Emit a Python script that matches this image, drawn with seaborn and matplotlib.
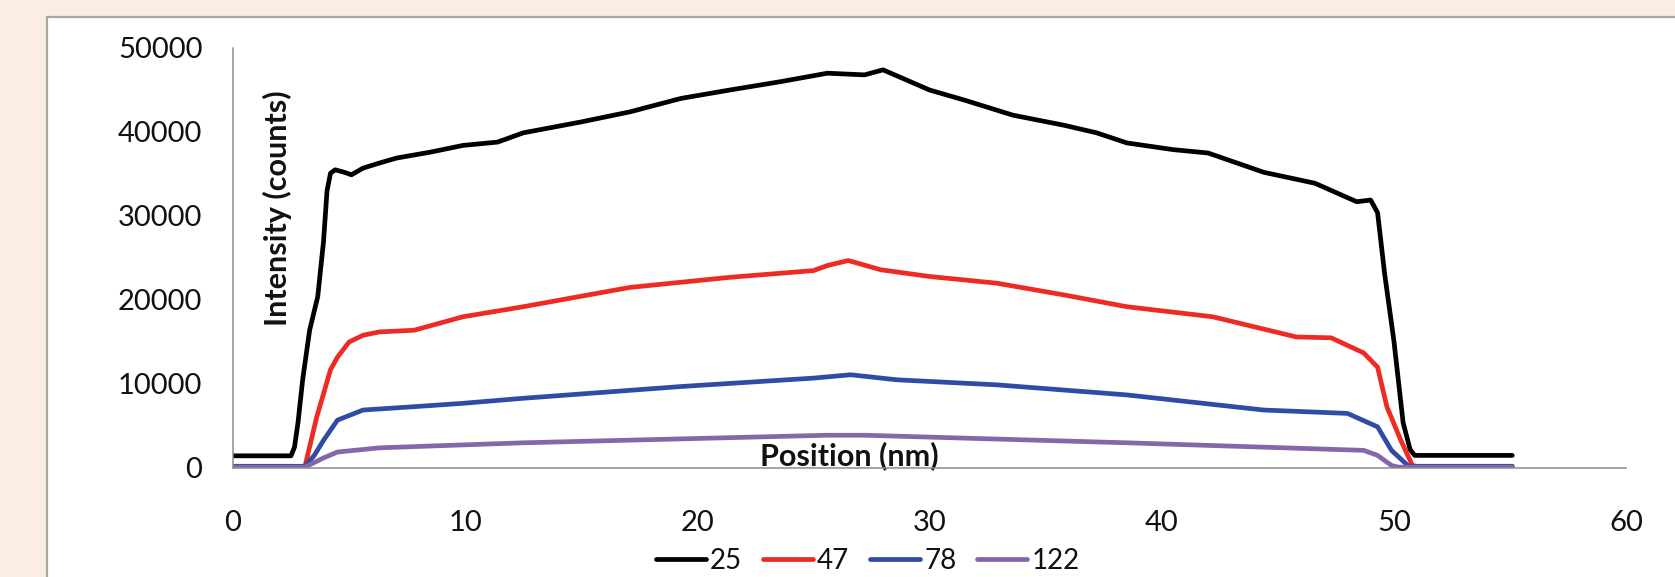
import matplotlib
matplotlib.use("Agg")
import matplotlib.pyplot as plt
from matplotlib.patches import Rectangle
import seaborn as sns
import pandas as pd

# values (position in nm, intensity in counts)
x_25 = [0, 2.5, 2.65, 2.8, 3.0, 3.3, 3.65, 3.9, 4.05, 4.2, 4.4, 4.8, 5.1, 5.6, 6.3, 7.05,
        8.5, 9.9, 11.4, 12.5, 15.0, 17.1, 19.3, 21.4, 23.6, 25.6, 27.2, 28.0, 30.0, 31.5,
        33.6, 35.8, 37.2, 38.5, 40.5, 42.0, 44.4, 46.6, 48.4, 49.0, 49.3, 49.6, 50.0,
        50.4, 50.7, 50.9, 55.1]
y_25 = [1450, 1450, 2500, 5400, 10500, 16400, 20400, 27000, 33000, 35100, 35500, 35200,
        34900, 35700, 36300, 36900, 37600, 38400, 38800, 39900, 41200, 42400, 44000, 45000,
        46000, 47000, 46800, 47400, 45000, 43800, 42000, 40800, 39900, 38700, 37900, 37500,
        35200, 33900, 31700, 31900, 30400, 23200, 15200, 5400, 2200, 1500, 1500]

x_47 = [0, 3.1, 3.6, 4.2, 4.5, 5.0, 5.6, 6.3, 7.8, 9.9, 12.5, 17.1, 21.4, 25.0, 25.6, 26.5,
        27.9, 30.0, 32.9, 35.8, 38.5, 42.2, 45.8, 47.3, 48.7, 49.3, 49.7, 50.3, 50.8, 51.0, 55.1]
y_47 = [200, 200, 6000, 11700, 13200, 15000, 15800, 16200, 16400, 18000, 19200, 21500, 22700,
        23500, 24100, 24700, 23600, 22800, 22000, 20600, 19200, 18000, 15600, 15500, 13700,
        12000, 7300, 3300, 300, 200, 200]

x_78 = [0, 3.1, 3.5, 3.9, 4.5, 5.6, 7.8, 9.9, 12.5, 19.3, 25.0, 26.6, 28.6, 32.9, 38.5,
        44.4, 48.0, 49.3, 49.9, 50.6, 50.8, 55.1]
y_78 = [200, 200, 1500, 3300, 5700, 6900, 7300, 7700, 8300, 9700, 10700, 11100, 10500, 9900,
        8700, 6900, 6500, 4900, 2100, 300, 200, 200]

x_122 = [0, 3.1, 3.9, 4.5, 6.3, 12.5, 25.6, 27.2, 38.5, 48.7, 49.3, 49.9, 50.2, 55.1]
y_122 = [100, 100, 1200, 1900, 2400, 3000, 3900, 3900, 3000, 2100, 1500, 300, 100, 100]

series_names = ["25", "47", "78", "122"]
series_colors = ["#000000", "#EE2A24", "#2F4BA6", "#8566A9"]

df = pd.concat([
    pd.DataFrame({"position": x, "intensity": y, "series": name})
    for name, x, y in zip(series_names, [x_25, x_47, x_78, x_122], [y_25, y_47, y_78, y_122])
])

sns.set_theme(style="white")
plt.rcParams["font.family"] = ["Lato", "DejaVu Sans"]

fig = plt.figure(figsize=(16.75, 5.77), dpi=100, facecolor="#FCEDE4")

# white chart panel with grey border
fig.patches.append(Rectangle((47 / 1675, -0.1), 1.2, (577 - 17) / 577 + 0.1,
                             transform=fig.transFigure, facecolor="white",
                             edgecolor="#A6A6A6", linewidth=1.6, zorder=-1))

ax = fig.add_axes([233 / 1675, 1 - 468 / 577, (1626 - 233) / 1675, (468 - 48) / 577])
ax.set_facecolor("none")

sns.lineplot(data=df, x="position", y="intensity", hue="series", palette=series_colors,
             hue_order=series_names, estimator=None, sort=False, linewidth=3.4,
             legend=False, ax=ax)

ax.set_xlim(0, 60)
ax.set_ylim(0, 50000)
ax.set_xticks(range(0, 61, 10))
ax.set_yticks(range(0, 50001, 10000))

for side in ["top", "right"]:
    ax.spines[side].set_visible(False)
for side in ["left", "bottom"]:
    ax.spines[side].set_color("#8C8C8C")
    ax.spines[side].set_linewidth(1.1)

ax.tick_params(axis="both", direction="out", length=7, width=1.1, color="#8C8C8C",
               labelsize=21, labelcolor="#111111")
ax.tick_params(axis="y", pad=15)
ax.tick_params(axis="x", pad=23)

ax.set_ylabel("Intensity (counts)", fontsize=22, fontweight="bold", color="#111111")
ax.yaxis.label.set_va("center")
ax.yaxis.set_label_coords((277 - 233) / 1393, (468 - 208) / 420)

ax.set_xlabel("Position (nm)", fontsize=22, fontweight="bold", color="#111111")
ax.xaxis.label.set_va("baseline")
ax.xaxis.set_label_coords((849 - 233) / 1393, 3 / 420)

fig.legend(ax.get_lines()[:4], series_names, loc="center", bbox_to_anchor=(0.518, 0.028),
           ncol=4, frameon=False, fontsize=20, handlelength=1.8, handletextpad=0.15,
           columnspacing=0.75, labelcolor="#111111")

fig.savefig("out.png", dpi=100, facecolor=fig.get_facecolor())
